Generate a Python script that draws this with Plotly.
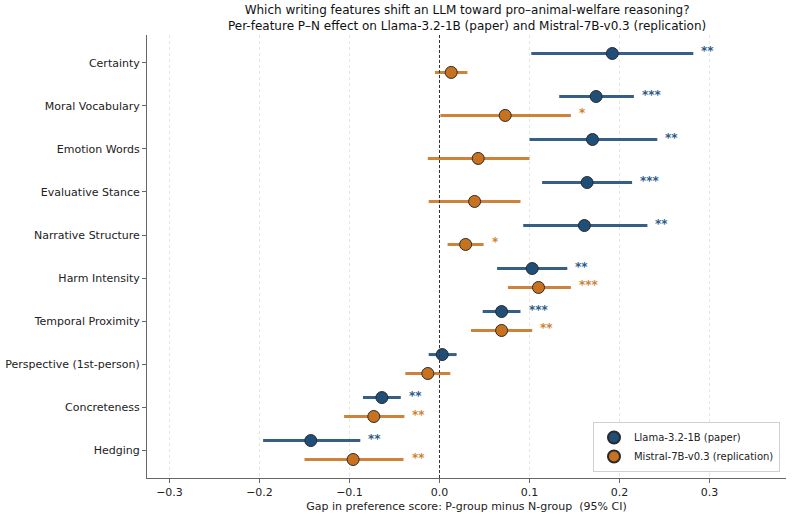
import plotly.graph_objects as go

features = ["Certainty", "Moral Vocabulary", "Emotion Words", "Evaluative Stance",
            "Narrative Structure", "Harm Intensity", "Temporal Proximity",
            "Perspective (1st-person)", "Concreteness", "Hedging"]

llama_mean = [0.192, 0.174, 0.170, 0.164, 0.161, 0.103, 0.069, 0.003, -0.064, -0.143]
llama_lo   = [0.102, 0.133, 0.100, 0.114, 0.093, 0.064, 0.048, -0.012, -0.085, -0.196]
llama_hi   = [0.282, 0.216, 0.242, 0.214, 0.231, 0.142, 0.090, 0.019, -0.043, -0.088]
llama_sig  = ["**", "***", "**", "***", "**", "**", "***", "", "**", "**"]

mistral_mean = [0.013, 0.073, 0.043, 0.039, 0.029, 0.110, 0.069, -0.013, -0.073, -0.096]
mistral_lo   = [-0.005, 0.001, -0.013, -0.012, 0.009, 0.076, 0.035, -0.038, -0.106, -0.150]
mistral_hi   = [0.031, 0.146, 0.100, 0.090, 0.049, 0.146, 0.103, 0.012, -0.039, -0.040]
mistral_sig  = ["", "*", "", "", "*", "***", "**", "", "**", "**"]

series = [
    ("Llama-3.2-1B (paper)", llama_mean, llama_lo, llama_hi, llama_sig, "#1f4e79", "rgba(31,78,121,0.9)", "#2c5a8a", 0.22),
    ("Mistral-7B-v0.3 (replication)", mistral_mean, mistral_lo, mistral_hi, mistral_sig, "#c8711e", "rgba(200,113,30,0.88)", "#d07f32", -0.22),
]

n = len(features)
base = [n - 1 - i for i in range(n)]
font = "DejaVu Sans, Arial, sans-serif"

fig = go.Figure()
annotations = []
for name, mean, lo, hi, sig, mcol, lcol, scol, off in series:
    ys = [b + off for b in base]
    fig.add_trace(go.Scatter(
        x=mean, y=ys, mode="markers", name=name,
        marker=dict(size=12, color=mcol, line=dict(color="#2a2a2a", width=1)),
        error_x=dict(type="data", symmetric=False,
                     array=[h - m for h, m in zip(hi, mean)],
                     arrayminus=[m - l for m, l in zip(mean, lo)],
                     width=0, thickness=3, color=lcol),
    ))
    for h, y, s in zip(hi, ys, sig):
        if s:
            annotations.append(dict(x=h, y=y, text="<b>" + s + "</b>", showarrow=False,
                                    xanchor="left", yanchor="middle", xshift=6, yshift=2,
                                    font=dict(family=font, size=12, color=scol)))

annotations.append(dict(
    text="Which writing features shift an LLM toward pro\u2013animal-welfare reasoning?<br>"
         "Per-feature P\u2013N effect on Llama-3.2-1B (paper) and Mistral-7B-v0.3 (replication)",
    x=0.5, xref="paper", y=1, yref="paper", xanchor="center", yanchor="bottom",
    yshift=0, showarrow=False, align="center",
    font=dict(family=font, size=12, color="#111111")))

fig.add_shape(type="line", x0=0, x1=0, y0=0, y1=1, xref="x", yref="paper",
              line=dict(color="#333333", width=1, dash="3px,2px"))

fig.update_layout(
    width=793, height=515,
    margin=dict(l=147, r=7, t=35, b=37, autoexpand=False),
    paper_bgcolor="white", plot_bgcolor="white",
    font=dict(family=font, size=11, color="#222222"),
    showlegend=True,
    legend=dict(x=0.9906, y=0.0135, xanchor="right", yanchor="bottom",
                bgcolor="rgba(255,255,255,0.9)", bordercolor="#d0d0d0", borderwidth=1,
                font=dict(family=font, size=10, color="#222222"),
                tracegroupgap=0, itemsizing="constant"),
    annotations=annotations,
)

fig.update_xaxes(range=[-0.325, 0.385], tickvals=[-0.3, -0.2, -0.1, 0.0, 0.1, 0.2, 0.3],
                 ticktext=["\u22120.3", "\u22120.2", "\u22120.1", "0.0", "0.1", "0.2", "0.3"],
                 showgrid=True, gridcolor="#e6e6e6", griddash="dot", gridwidth=1,
                 zeroline=False, showline=True, linecolor="#666666", linewidth=1,
                 ticks="outside", ticklen=4, tickcolor="#666666", automargin=False,
                 title=dict(text="Gap in preference score: P-group minus N-group  (95% CI)",
                            font=dict(family=font, size=11, color="#222222"), standoff=4))
fig.update_yaxes(range=[-0.65, 9.65], tickvals=base, ticktext=features,
                 showgrid=False, zeroline=False, showline=True, linecolor="#666666", linewidth=1,
                 ticks="outside", ticklen=4, tickcolor="#666666", automargin=False)

fig.write_html("out.html")
